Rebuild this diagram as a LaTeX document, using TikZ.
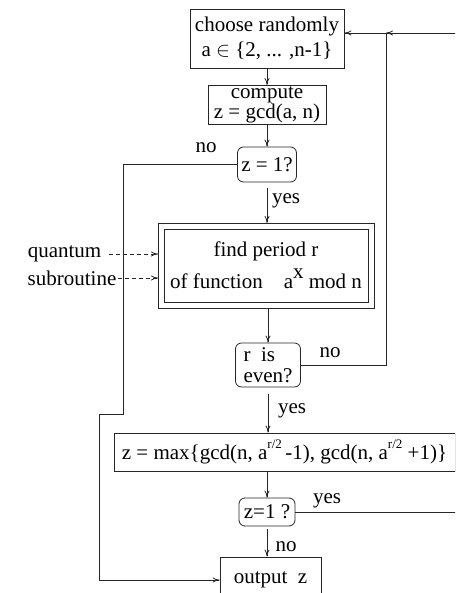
\documentclass[tikz,border=0pt]{standalone}
\usepackage{fontspec}
\setmainfont{Liberation Serif}
\usetikzlibrary{arrows.meta}
\tikzset{
  ln/.style={line width=0.8pt, draw=black!85},
  box/.style={ln, draw, inner sep=0pt, align=center, font=\fontsize{21}{19}\selectfont},
  rbox/.style={box, rounded corners=6pt},
  lbl/.style={inner sep=0pt, font=\fontsize{21}{20}\selectfont},
  conn/.style={ln, -{To[length=7pt,width=5pt]}},
  dconn/.style={conn, dash pattern=on 4pt off 3pt},
}
\newcommand{\supx}[1]{\raisebox{10pt}{#1}}
\newcommand{\supr}[1]{\raisebox{11pt}{\fontsize{13}{13}\selectfont #1}}
\begin{document}
\begin{tikzpicture}[x=1pt,y=-1pt]
\useasboundingbox (0,0) rectangle (455,593);
\clip (0,0) rectangle (455,593);
% nodes
\node[box, minimum width=154pt, minimum height=59pt, font=\fontsize{21}{25}\selectfont] (b1) at (267,38.5)
  {choose randomly\\a $\in$ \{2, ... ,n-1\}};
\node[box, minimum width=118pt, minimum height=39pt, font=\fontsize{21}{18}\selectfont] (b2) at (267,105)
  {compute\\z = gcd(a, n)};
\node[rbox, minimum width=59pt, minimum height=35pt] (d1) at (267,164.5) {z = 1?};
\node[box, outer sep=6pt, minimum width=204pt, minimum height=73pt,
      font=\fontsize{21}{32}\selectfont] (big) at (266,265.5)
  {find period r\\of function\ \ \ \ a\supx{x} mod n};
\draw[ln] (big.north west) rectangle (big.south east);
\node[rbox, align=left, minimum width=65pt, minimum height=44pt, font=\fontsize{21}{21}\selectfont] (d2) at (268,365)
  {r\ \ is\\even?};
\node[box, minimum width=341pt, minimum height=38pt] (mx) at (284.5,452)
  {z = max\{gcd(n, a\supr{r/2}\,-1), gcd(n, a\supr{r/2}\ +1)\}};
\node[rbox, minimum width=56pt, minimum height=28pt] (d3) at (267,512) {z=1 ?};
\node[box, minimum width=101pt, minimum height=46pt] (out) at (270.5,580) {output\ \ z};
% labels
\node[lbl] (no1) at (206,148) {no};
\node[lbl] (yes1) at (286,201) {yes};
\node[lbl] (no2) at (330,353) {no};
\node[lbl] (yes2) at (292,411) {yes};
\node[lbl] (yes3) at (327,501) {yes};
\node[lbl] (no3) at (286,547) {no};
\node[lbl] (qu) at (64.5,254) {quantum};
\node[lbl] (sub) at (72,278) {subroutine};
% junction
\coordinate (j) at (386,33);
\coordinate (rt) at (462,512);
% connectors
\draw[conn] (b1.south) -- (b2.north);
\draw[conn] (b2.south) -- (b2.south |- d1.north);
\draw[conn, shorten <=6pt] (d1.south) -- (d1.south |- big.north);
\draw[conn] (big.south -| d2.north) -- (d2.north);
\draw[conn, shorten <=7pt] (d2.south) -- (d2.south |- mx.north);
\draw[conn] (d3.north |- mx.south) -- (d3.north);
\draw[conn, shorten <=3pt] (d3.south) -- (d3.south |- out.north);
\draw[conn] (d1.west) -| (123,414) -- (99,414) |- (out.west);
\draw[ln] (d2.east) -| (j);
\draw[conn] (j) -- (j -| b1.east);
\draw[conn] (d3.east) -- (rt) |- (j);
\draw[dconn, shorten <=8pt] (qu.east) -- (qu.east -| big.west);
\draw[dconn, shorten <=1pt] (sub.east) -- (sub.east -| big.west);
\end{tikzpicture}
\end{document}
